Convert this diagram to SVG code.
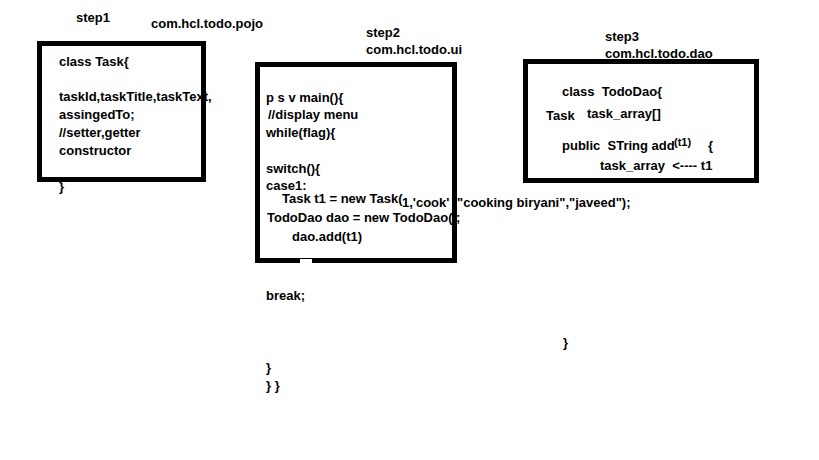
<svg xmlns="http://www.w3.org/2000/svg" width="819" height="460" viewBox="0 0 819 460">
<style>
text{font-family:"Liberation Sans",Arial,sans-serif;font-size:13px;font-weight:bold;fill:#000;white-space:pre}
.box{fill:none;stroke:#000;stroke-width:5}
.sm{font-size:11px}
</style>
<rect width="819" height="460" fill="#fff"/>
<g id="labels">
<text x="76" y="22">step1</text>
<text x="151" y="28">com.hcl.todo.pojo</text>
<text x="366" y="37">step2</text>
<text x="366" y="54">com.hcl.todo.ui</text>
<text x="605" y="41">step3</text>
<text x="605" y="58">com.hcl.todo.dao</text>
</g>
<g id="step1">
<text x="59" y="66">class Task{</text>
<text x="59" y="101">taskId,taskTitle,taskText,</text>
<text x="59" y="119">assingedTo;</text>
<text x="59" y="137">//setter,getter</text>
<text x="59" y="155">constructor</text>
<text x="59" y="191">}</text>
<rect class="box" x="39.5" y="43.5" width="164" height="136"/>
</g>
<g id="step2">
<text x="266" y="102">p s v main(){</text>
<text x="268" y="119">//display menu</text>
<text x="266" y="137">while(flag){</text>
<text x="266" y="173">switch(){</text>
<text x="266" y="190">case1:</text>
<text x="282" y="203">Task t1 = new Task(</text>
<text x="402" y="207">1,'cook'</text>
<text x="457" y="207">"cooking biryani","javeed");</text>
<text x="267" y="222">TodoDao dao = new TodoDao(</text>
<text x="456" y="222">;</text>
<text x="292" y="241">dao.add(t1)</text>
<rect class="box" x="257.5" y="64.5" width="197" height="196"/>
<rect x="300" y="259" width="12" height="4" fill="#fff"/>
<text x="266" y="300">break;</text>
<text x="266" y="372">}</text>
<text x="266" y="390">} }</text>
</g>
<g id="step3">
<text x="562" y="96">class  TodoDao{</text>
<text x="546" y="120">Task</text>
<text x="587" y="118">task_array[]</text>
<text x="562" y="150">public  STring add</text>
<text class="sm" x="674" y="146">(t1)</text>
<text x="708" y="150">{</text>
<text x="600" y="170">task_array  &lt;---- t1</text>
<rect class="box" x="525.5" y="61.5" width="231" height="119"/>
<text x="563" y="347">}</text>
</g>
<g id="connectors"></g>
</svg>
